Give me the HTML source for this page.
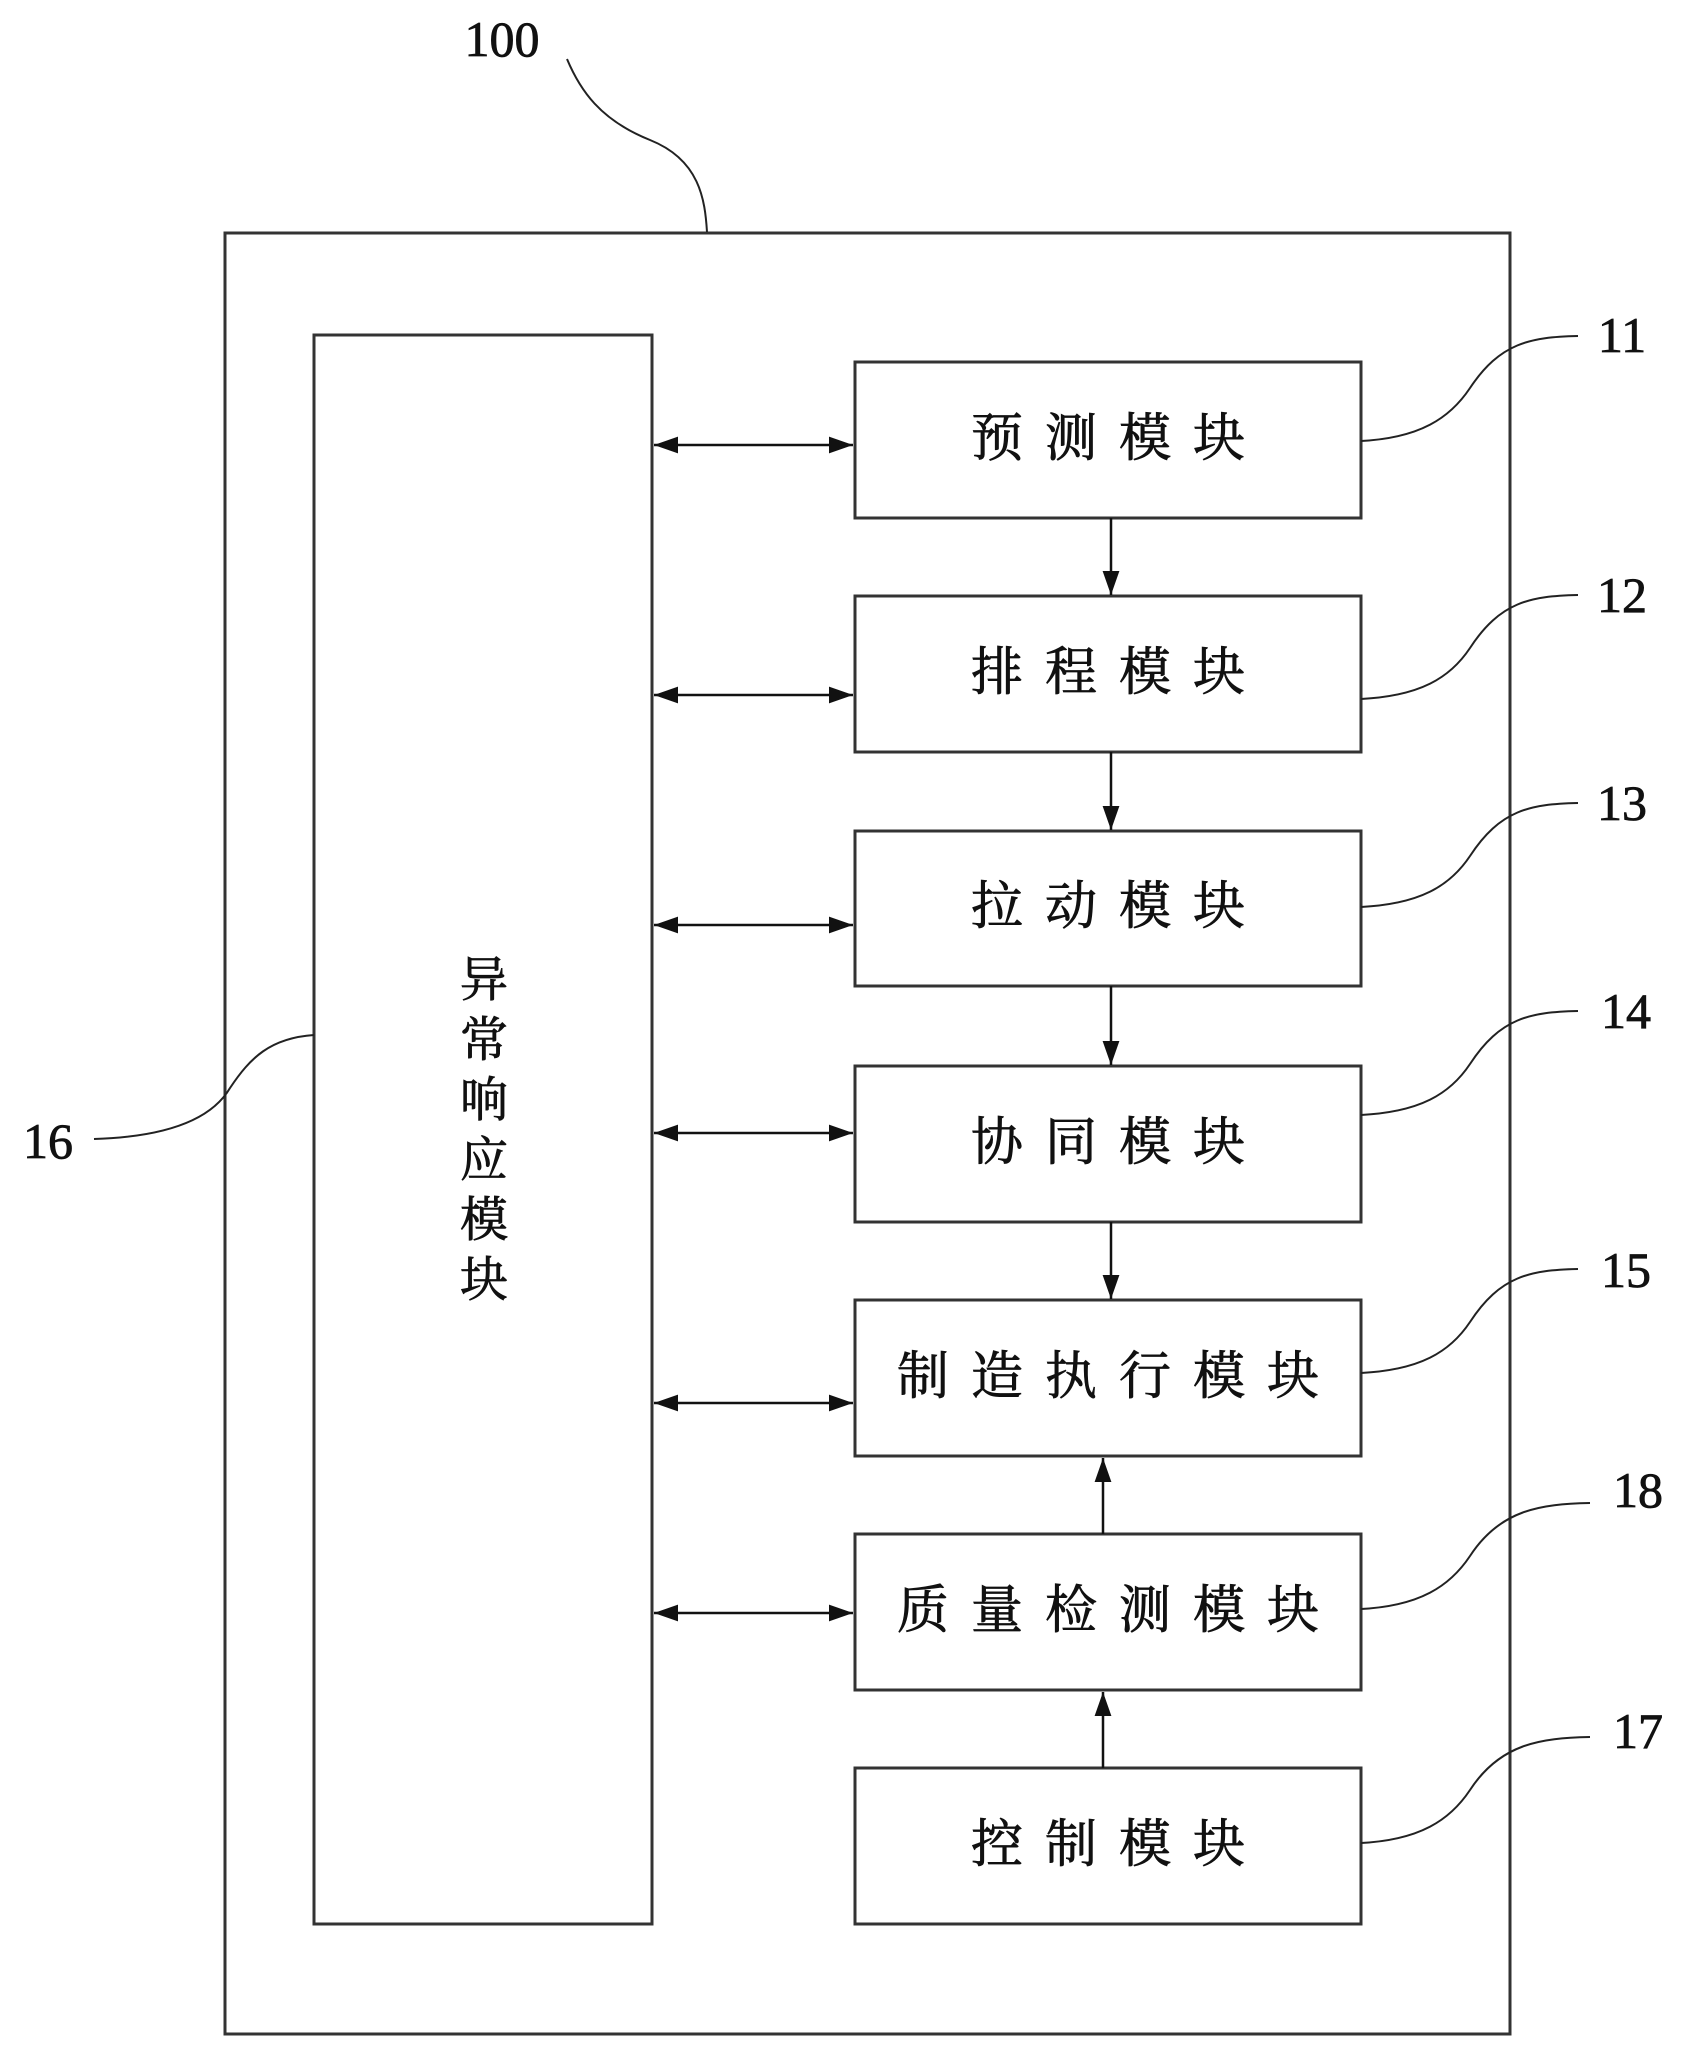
<!DOCTYPE html>
<html><head><meta charset="utf-8"><style>
html,body{margin:0;padding:0;background:#fff;}
svg{display:block;}
text{font-family:"Liberation Serif","Noto Serif CJK SC","Noto Sans CJK SC",serif;fill:#111;}
</style></head><body>
<svg width="1696" height="2052" viewBox="0 0 1696 2052" xmlns="http://www.w3.org/2000/svg">
<defs>
<marker id="b" viewBox="0 0 10 10" refX="10" refY="5" markerWidth="24" markerHeight="24" markerUnits="userSpaceOnUse" orient="auto-start-reverse">
<path d="M0,1.5 L10,5 L0,8.5 z" fill="#111"/></marker>
</defs>
<g fill="none" stroke="#333" stroke-width="3">
<rect x="225" y="233" width="1285" height="1801"/>
<rect x="314" y="335" width="338" height="1589"/>
<rect x="855" y="362" width="506" height="156"/>
<rect x="855" y="596" width="506" height="156"/>
<rect x="855" y="831" width="506" height="155"/>
<rect x="855" y="1066" width="506" height="156"/>
<rect x="855" y="1300" width="506" height="156"/>
<rect x="855" y="1534" width="506" height="156"/>
<rect x="855" y="1768" width="506" height="156"/>
</g>
<g stroke="#111" stroke-width="2.5" fill="none" marker-start="url(#b)" marker-end="url(#b)">
<line x1="654" y1="445" x2="853" y2="445"/>
<line x1="654" y1="695" x2="853" y2="695"/>
<line x1="654" y1="925" x2="853" y2="925"/>
<line x1="654" y1="1133" x2="853" y2="1133"/>
<line x1="654" y1="1403" x2="853" y2="1403"/>
<line x1="654" y1="1613" x2="853" y2="1613"/>
</g>
<g stroke="#111" stroke-width="2.5" fill="none" marker-end="url(#b)">
<line x1="1111" y1="518" x2="1111" y2="595"/>
<line x1="1111" y1="752" x2="1111" y2="830"/>
<line x1="1111" y1="986" x2="1111" y2="1065"/>
<line x1="1111" y1="1222" x2="1111" y2="1299"/>
<line x1="1103" y1="1534" x2="1103" y2="1458"/>
<line x1="1103" y1="1768" x2="1103" y2="1692"/>
</g>
<g stroke="#222" stroke-width="2" fill="none">
<path d="M567,59 C580,90 600,120 650,140 C700,160 705,200 707,232"/>
<path d="M1361,441 C1420,438 1450,418 1470,388 C1500,343 1530,337 1578,336"/>
<path d="M1361,699 C1420,696 1450,678 1470,648 C1500,602 1530,596 1578,595"/>
<path d="M1361,907 C1420,904 1450,886 1470,856 C1500,810 1530,804 1578,803"/>
<path d="M1361,1115 C1420,1112 1450,1094 1470,1064 C1500,1018 1530,1012 1578,1011"/>
<path d="M1361,1373 C1420,1370 1450,1352 1470,1322 C1500,1276 1530,1270 1578,1269"/>
<path d="M1361,1609 C1420,1606 1450,1586 1470,1556 C1500,1510 1540,1504 1590,1503"/>
<path d="M1361,1843 C1420,1840 1450,1820 1470,1790 C1500,1744 1540,1738 1590,1737"/>
<path d="M314,1035 C270,1038 250,1058 230,1088 C210,1122 160,1137 94,1139"/>
</g>
<g font-size="50" text-anchor="middle" stroke="#111" stroke-width="0.8">
<text x="502" y="56">100</text>
<text x="1622" y="352">11</text>
<text x="1622" y="612">12</text>
<text x="1622" y="820">13</text>
<text x="1626" y="1028">14</text>
<text x="1626" y="1287">15</text>
<text x="1638" y="1507">18</text>
<text x="1638" y="1748">17</text>
<text x="48" y="1158">16</text>
</g>
<g font-size="52" text-anchor="middle" letter-spacing="22" stroke="#111" stroke-width="0.8">
<text x="1119" y="456">预测模块</text>
<text x="1119" y="690">排程模块</text>
<text x="1119" y="924">拉动模块</text>
<text x="1119" y="1160">协同模块</text>
<text x="1119" y="1394">制造执行模块</text>
<text x="1119" y="1628">质量检测模块</text>
<text x="1119" y="1862">控制模块</text>
</g>
<g font-size="48" text-anchor="middle" stroke="#111" stroke-width="0.8">
<text x="484" y="996">异</text>
<text x="484" y="1056">常</text>
<text x="484" y="1116">响</text>
<text x="484" y="1176">应</text>
<text x="484" y="1236">模</text>
<text x="484" y="1296">块</text>
</g>
</svg>
</body></html>
